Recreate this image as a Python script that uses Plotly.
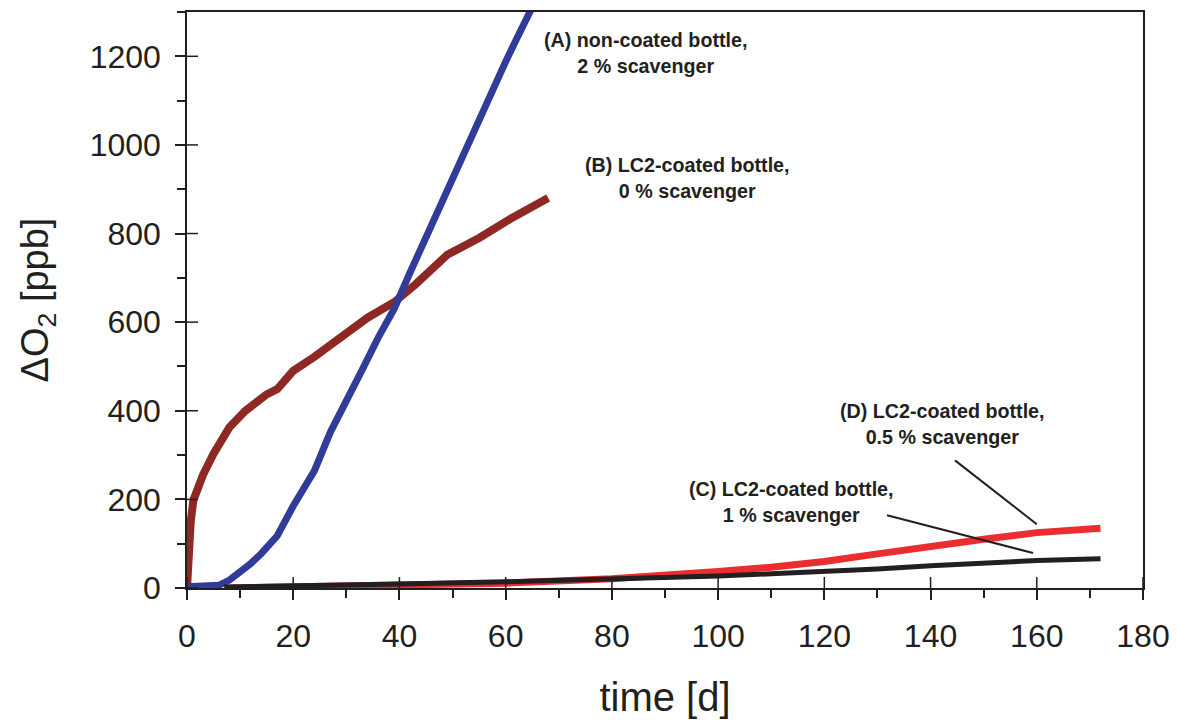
import plotly.graph_objects as go

# ---- data ----
t_A = [0, 3, 6, 8, 10, 12, 14, 17, 20, 22, 24, 27, 30, 33, 36, 39, 42, 44, 46, 48, 50, 52, 54, 56, 58, 60, 62, 64, 66]
v_A = [3, 3, 6, 18, 35, 55, 78, 118, 185, 225, 265, 352, 420, 493, 565, 630, 712, 765, 820, 875, 930, 983, 1035, 1085, 1138, 1188, 1238, 1288, 1335]

t_B = [0, 0.3, 0.7, 1.2, 2, 3, 5, 8, 11, 15, 17, 20, 24, 29, 34, 39, 43, 49, 55, 61, 65, 68]
v_B = [0, 90, 150, 198, 230, 255, 303, 363, 400, 437, 449, 490, 522, 565, 610, 645, 685, 752, 790, 834, 860, 880]

t_C = [7, 20, 40, 60, 80, 100, 110, 120, 130, 140, 150, 160, 172]
v_C = [2, 4, 9, 14, 20, 27, 32, 37, 43, 50, 57, 62, 66]

t_D = [8, 20, 40, 60, 80, 90, 100, 110, 120, 130, 140, 150, 160, 172]
v_D = [0, 2, 5, 11, 21, 28, 37, 47, 60, 77, 95, 110, 125, 135]

x_ticks = [0, 20, 40, 60, 80, 100, 120, 140, 160, 180]
y_ticks = [0, 200, 400, 600, 800, 1000, 1200]

labels = {
    "A": "(A) non-coated bottle,<br>2 % scavenger",
    "B": "(B) LC2-coated bottle,<br>0 % scavenger",
    "C": "(C) LC2-coated bottle,<br>1 % scavenger",
    "D": "(D) LC2-coated bottle,<br>0.5 % scavenger",
}

INK = "#231f20"
FAM = "Liberation Sans, Arial, sans-serif"
fig = go.Figure()
fig.add_trace(go.Scatter(x=t_B, y=v_B, mode="lines", line=dict(color="#8e2823", width=8), name="B"))
fig.add_trace(go.Scatter(x=t_A, y=v_A, mode="lines", line=dict(color="#313b98", width=7), name="A"))
fig.add_trace(go.Scatter(x=t_D, y=v_D, mode="lines", line=dict(color="#ec2d30", width=7), name="D"))
fig.add_trace(go.Scatter(x=t_C, y=v_C, mode="lines", line=dict(color=INK, width=5), name="C"))

afont = dict(family=FAM, size=19.7, color=INK)
fig.add_annotation(x=86.3, y=1207, text="<b>" + labels["A"] + "</b>", showarrow=False, font=afont, align="center")
fig.add_annotation(x=94.2, y=926, text="<b>" + labels["B"] + "</b>", showarrow=False, font=afont, align="center")
fig.add_annotation(x=142.2, y=371, text="<b>" + labels["D"] + "</b>", showarrow=False, font=afont, align="center")
fig.add_annotation(x=113.9, y=195, text="<b>" + labels["C"] + "</b>", showarrow=False, font=afont, align="center")

# pointer lines
fig.add_shape(type="line", x0=144.6, y0=288, x1=160, y1=144, line=dict(color=INK, width=2))
fig.add_shape(type="line", x0=131.8, y0=164, x1=159.3, y1=79, line=dict(color=INK, width=2))

# inner half of the (crossing) major ticks
for tv in x_ticks:
    fig.add_shape(type="line", xref="x", yref="y", ysizemode="pixel", yanchor=0,
                  x0=tv, x1=tv, y0=0, y1=11, line=dict(color=INK, width=1.5))
for tv in y_ticks:
    fig.add_shape(type="line", xref="x", yref="y", xsizemode="pixel", xanchor=0,
                  x0=0, x1=11, y0=tv, y1=tv, line=dict(color=INK, width=1.5))

tfont = dict(family=FAM, size=32, color=INK)
fig.update_layout(
    width=1178, height=720,
    margin=dict(l=187, r=35, t=12, b=132),
    plot_bgcolor="white", paper_bgcolor="white",
    showlegend=False,
    xaxis=dict(range=[0, 180], tickvals=x_ticks, ticks="outside", ticklen=10, tickwidth=1.5, tickcolor=INK,
               minor=dict(dtick=10, tick0=0, ticks="outside", ticklen=8, tickwidth=1.5, tickcolor=INK),
               showline=True, linecolor=INK, linewidth=1.5, mirror=True, showgrid=False, zeroline=False,
               tickfont=tfont, ticklabelstandoff=9, automargin=False,
               title=dict(text="time [d]", font=dict(family=FAM, size=40, color=INK), standoff=30)),
    yaxis=dict(range=[0, 1300], tickvals=y_ticks, ticks="outside", ticklen=10, tickwidth=1.5, tickcolor=INK,
               minor=dict(dtick=100, tick0=0, ticks="outside", ticklen=8, tickwidth=1.5, tickcolor=INK),
               showline=True, linecolor=INK, linewidth=1.5, mirror=True, showgrid=False, zeroline=False,
               tickfont=tfont, ticklabelstandoff=8, automargin=False,
               title=dict(text="ΔO<sub>2</sub> [ppb]", font=dict(family=FAM, size=38, color=INK), standoff=29)),
)

fig.write_html("out.html", config={"displayModeBar": False},
               post_script="document.body.style.margin='0px';")
